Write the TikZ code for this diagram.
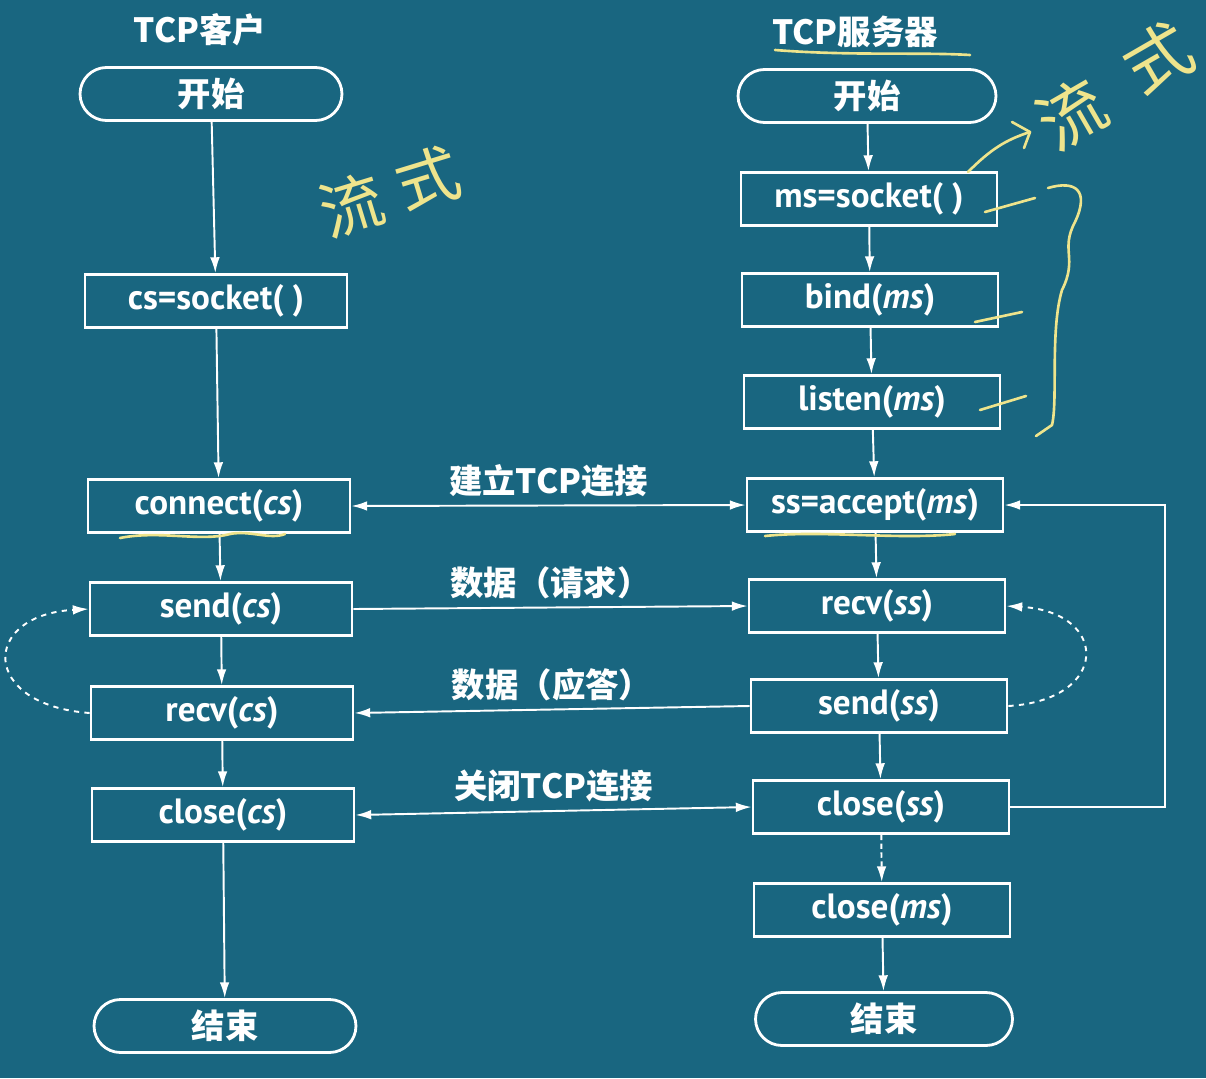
\documentclass[tikz,border=0pt]{standalone}
\usepackage{fontspec}
\setmainfont{PT Sans}
\newfontfamily\cjk{Noto Sans CJK SC}
\usetikzlibrary{shapes.misc,arrows.meta}
\definecolor{bg}{RGB}{25,102,128}
\definecolor{pen}{RGB}{238,228,140}
\begin{document}
\begin{tikzpicture}[x=0.02cm,y=-0.02cm,
  box/.style={draw=white,line width=1.6pt,minimum width=#1,minimum height=1.06cm,inner sep=0pt,text=white,font=\fontsize{20}{22}\selectfont\bfseries},
  box/.default=5.2cm,
  term/.style={rounded rectangle,draw=white,line width=1.6pt,minimum width=#1,minimum height=1.06cm,inner sep=0pt,text=white,font=\fontsize{19}{21}\selectfont\cjk\bfseries},
  term/.default=5.2cm,
  conn/.style={draw=white,line width=1.1pt,-{Latex[length=9pt,width=5.5pt]}},
  both/.style={draw=white,line width=1.1pt,{Latex[length=9pt,width=5.5pt]}-{Latex[length=9pt,width=5.5pt]}},
  lbl/.style={text=white,font=\fontsize{19}{21}\selectfont\cjk\bfseries},
  hdr/.style={text=white,font=\fontsize{19}{21}\selectfont\cjk\bfseries},
  pen/.style={draw=pen,line width=1.5pt,line cap=round,line join=round},
  note/.style={text=pen,inner sep=0pt}
  ]
\fill[bg] (0,0) rectangle (1206,1078);
\useasboundingbox (0,0) rectangle (1206,1078);

% headers
\node[hdr] (hc) at (200,30) {TCP客户};
\node[hdr] (hs) at (855,32) {TCP服务器};

% client column
\node[term=5.24cm] (cstart) at (211,94) {开始};
\node[box=5.24cm] (csock) at (216,301) {cs=socket( )};
\node[box=5.24cm] (conn) at (219,506) {connect(\textit{cs})};
\node[box=5.24cm] (sendc) at (221,609) {send(\textit{cs})};
\node[box=5.24cm] (recvc) at (222,713) {recv(\textit{cs})};
\node[box=5.24cm] (closec) at (223,815) {close(\textit{cs})};
\node[term=5.24cm] (cend) at (225,1026) {结束};

% server column
\node[term=5.16cm] (sstart) at (867,96) {开始};
\node[box=5.12cm] (msock) at (869,199) {ms=socket( )};
\node[box=5.12cm] (bind) at (870,300) {bind(\textit{ms})};
\node[box=5.12cm] (listen) at (872,402) {listen(\textit{ms})};
\node[box=5.12cm] (accept) at (875,505) {ss=accept(\textit{ms})};
\node[box=5.12cm] (recvs) at (877,606) {recv(\textit{ss})};
\node[box=5.12cm] (sends) at (879,706) {send(\textit{ss})};
\node[box=5.12cm] (closes) at (881,807) {close(\textit{ss})};
\node[box=5.12cm] (closem) at (882,910) {close(\textit{ms})};
\node[term=5.14cm] (send) at (884,1019) {结束};

% vertical flow
\draw[conn] (cstart) -- (csock);
\draw[conn] (csock) -- (conn);
\draw[conn] (conn) -- (sendc);
\draw[conn] (sendc) -- (recvc);
\draw[conn] (recvc) -- (closec);
\draw[conn] (closec) -- (cend);
\draw[conn] (sstart) -- (msock);
\draw[conn] (msock) -- (bind);
\draw[conn] (bind) -- (listen);
\draw[conn] (listen) -- (accept);
\draw[conn] (accept) -- (recvs);
\draw[conn] (recvs) -- (sends);
\draw[conn] (sends) -- (closes);
\draw[conn,densely dashed] (closes) -- (closem);
\draw[conn] (closem) -- (send);

% horizontal messages
\draw[both] (conn.east) -- (accept.west) node[lbl,midway,above=1pt] (l1) {建立TCP连接};
\draw[conn] (sendc.east) -- (recvs.west) node[lbl,midway,above=1pt] (l2) {数据（请求）};
\draw[conn] (sends.west) -- (recvc.east) node[lbl,midway,above=1pt] (l3) {数据（应答）};
\draw[both] (closec.east) -- (closes.west) node[lbl,midway,above=1pt] (l4) {关闭TCP连接};

% server loop
\coordinate (lp) at (1165,505);
\draw[conn] (closes.east) -| (lp) -- (accept.east);

% dashed loops
\draw[conn,dashed] (recvc.west) .. controls (-20,705) and (-20,615) .. (sendc.west);
\draw[conn,dashed] (sends.east) .. controls (1110,700) and (1110,612) .. (recvs.east);

% handwritten annotations
\node[note,rotate=17,font=\cjk\fontsize{36}{36}\selectfont] (n1a) at (352,205) {流};
\node[note,rotate=17,font=\cjk\fontsize{36}{36}\selectfont] (n1b) at (428,178) {式};
\node[note,rotate=30,font=\cjk\fontsize{38}{38}\selectfont] (n2a) at (1072,114) {流};
\node[note,rotate=30,font=\cjk\fontsize{38}{38}\selectfont] (n2b) at (1158,58) {式};
\draw[pen] (775,50) .. controls (850,56) and (920,52) .. (970,55);
\draw[pen] (968,172) .. controls (990,150) and (1005,140) .. (1030,132);
\draw[pen] (1012,122) -- (1030,132) -- (1024,148);
\draw[pen] (985,212) -- (1035,198);
\draw[pen] (975,322) -- (1022,312);
\draw[pen] (980,410) -- (1026,396);
\draw[pen] (1048,188) .. controls (1075,180) and (1090,190) .. (1075,222) .. controls (1060,250) and (1078,258) .. (1062,290) .. controls (1050,330) and (1058,400) .. (1052,425) -- (1036,436);
\draw[pen] (120,538) .. controls (160,530) and (200,542) .. (230,534) .. controls (250,530) and (270,540) .. (285,534);
\draw[pen] (765,536) .. controls (820,530) and (900,540) .. (955,534);
\end{tikzpicture}
\end{document}
